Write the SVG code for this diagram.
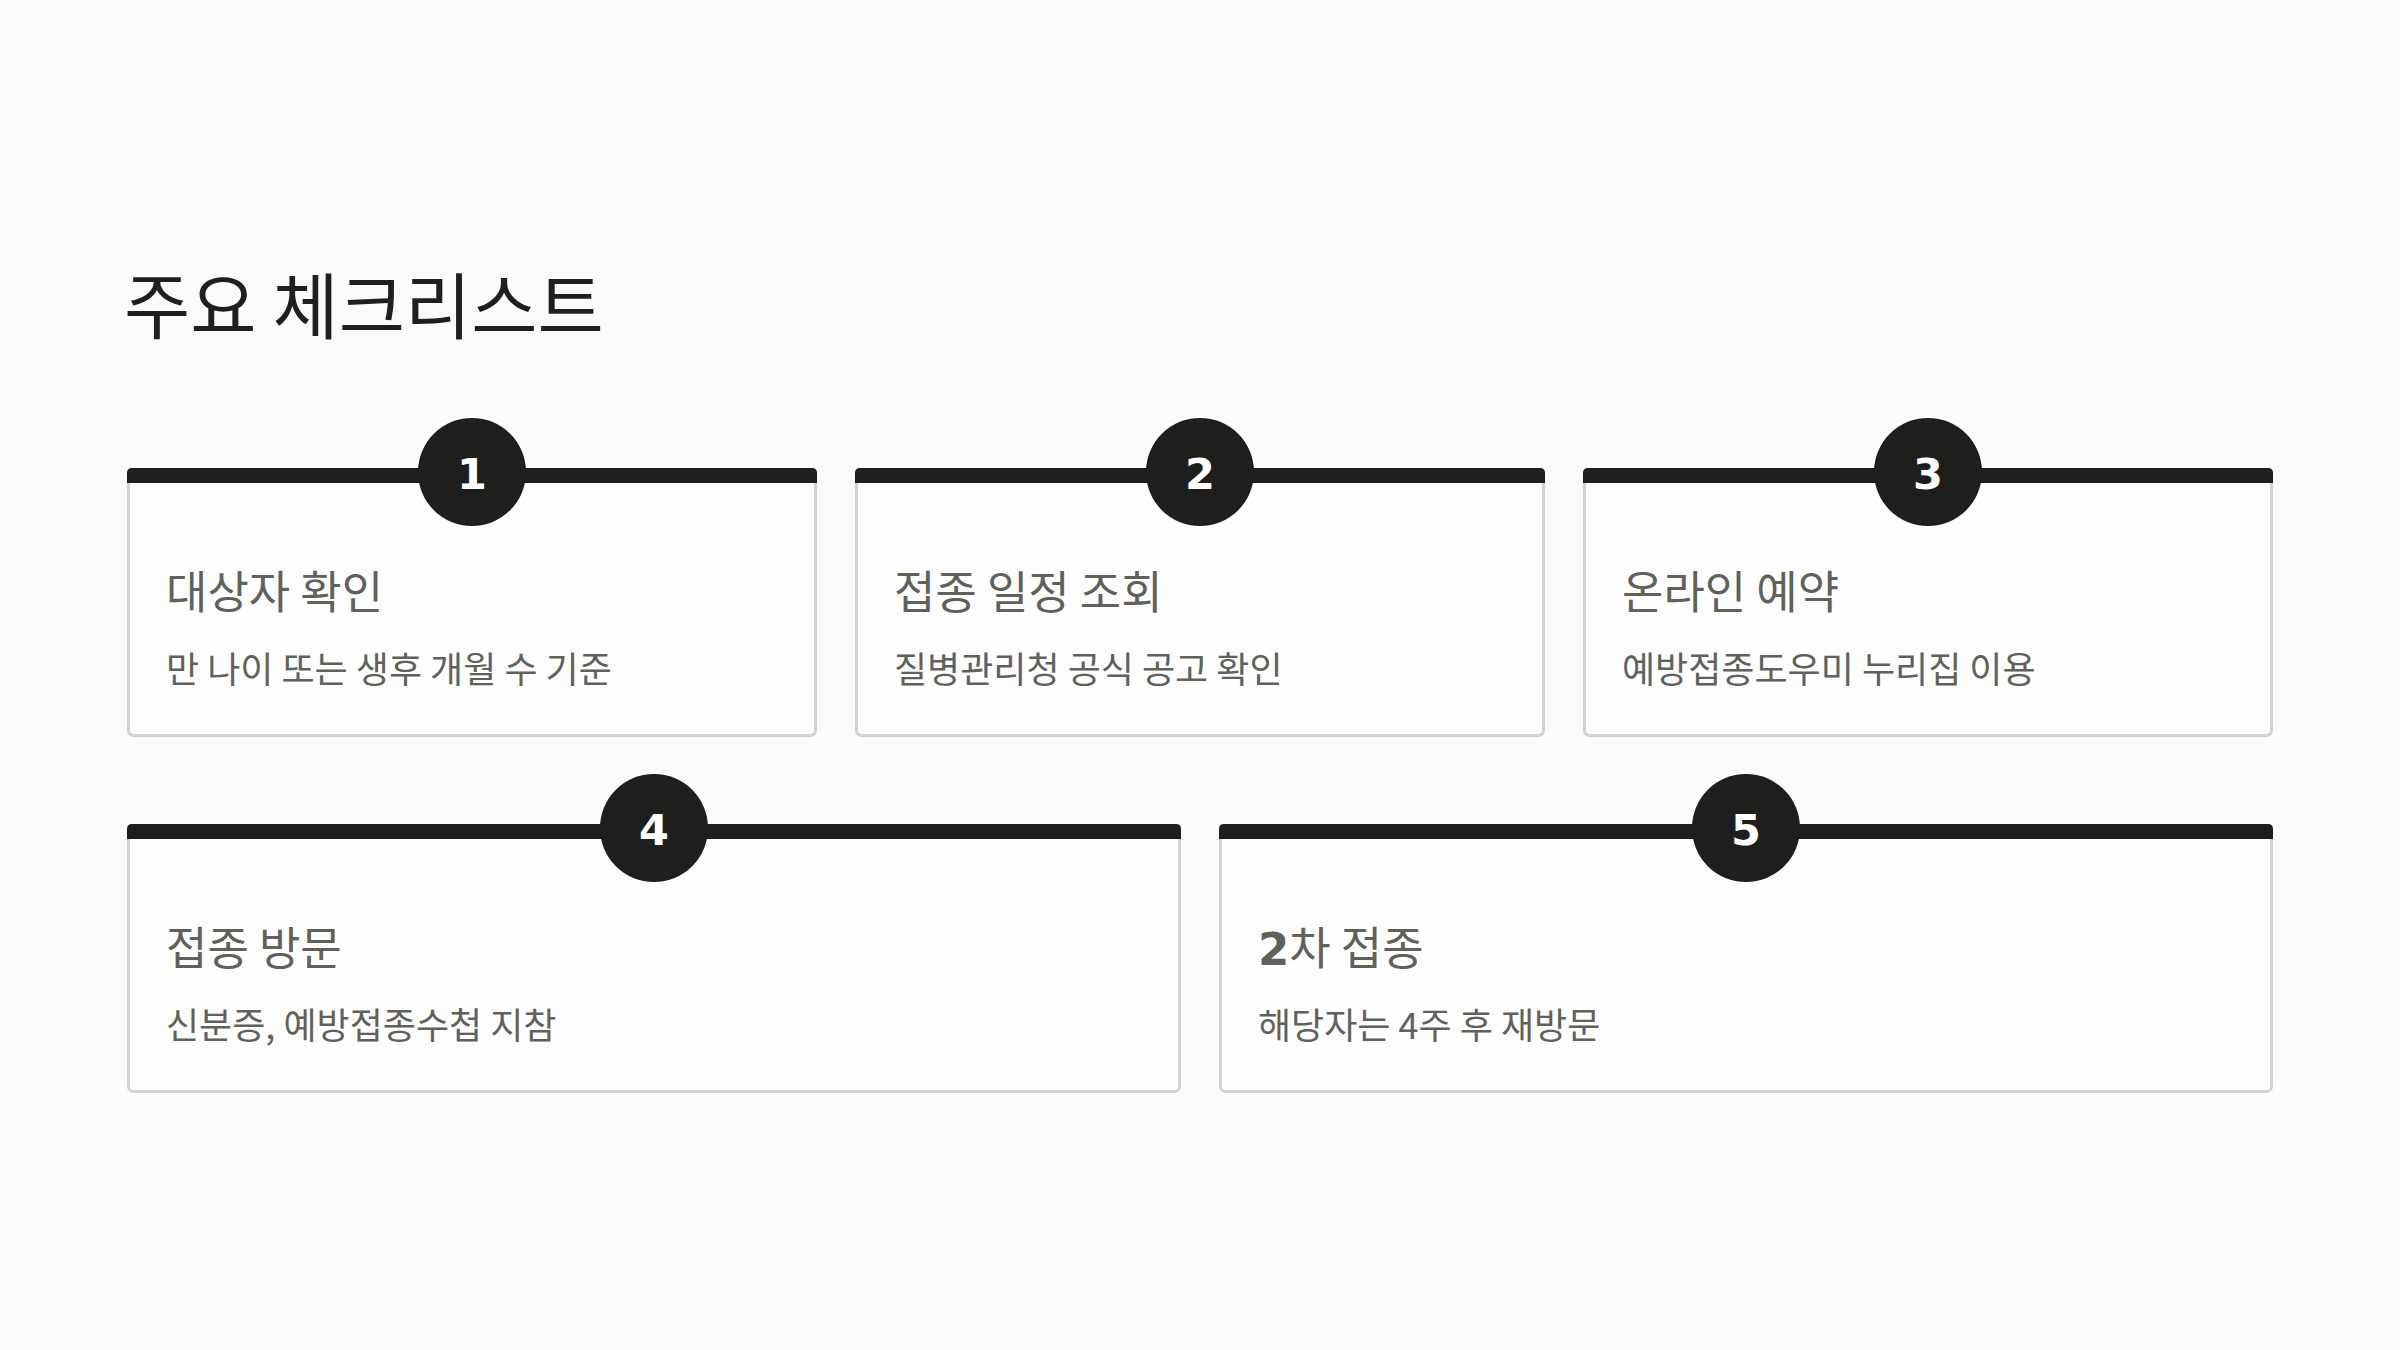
<svg xmlns="http://www.w3.org/2000/svg" width="2400" height="1350" viewBox="0 0 2400 1350">
  <style>
    .title { font-family: "Noto Sans CJK KR", "Noto Sans", sans-serif; font-size: 72px; fill: #1f1f1d; }
    .card { fill: #fdfdfd; stroke: #d5d1d1; stroke-width: 3; }
    .bar { fill: #1e1e1c; }
    .badge { fill: #1e1e1c; }
    .num { font-family: "DejaVu Sans", sans-serif; font-weight: bold; font-size: 43px; fill: #ffffff; text-anchor: middle; }
    .head { font-family: "Noto Sans CJK KR", "Noto Sans", sans-serif; font-size: 45px; fill: #61615b; }
    .desc { font-family: "Noto Sans CJK KR", "Noto Sans", sans-serif; font-size: 36px; fill: #61615b; }
    .bold { font-family: "DejaVu Sans", sans-serif; font-weight: bold; }
  </style>
  <rect x="0" y="0" width="2400" height="1350" fill="#fbfbfb"/>
  <text class="title" x="124" y="333">주요 체크리스트</text>

  <g id="connectors"></g>

  <g id="step1">
    <rect class="card" x="128.5" y="469.5" width="687" height="266" rx="5"/>
    <path class="bar" d="M127 483 V473 Q127 468 132 468 H812 Q817 468 817 473 V483 Z"/>
    <circle class="badge" cx="472" cy="472" r="54"/>
    <text class="num" x="472" y="489">1</text>
    <text class="head" x="166" y="609">대상자 확인</text>
    <text class="desc" x="166" y="683">만 나이 또는 생후 개월 수 기준</text>
  </g>

  <g id="step2">
    <rect class="card" x="856.5" y="469.5" width="687" height="266" rx="5"/>
    <path class="bar" d="M855 483 V473 Q855 468 860 468 H1540 Q1545 468 1545 473 V483 Z"/>
    <circle class="badge" cx="1200" cy="472" r="54"/>
    <text class="num" x="1200" y="489">2</text>
    <text class="head" x="894" y="609">접종 일정 조회</text>
    <text class="desc" x="894" y="683">질병관리청 공식 공고 확인</text>
  </g>

  <g id="step3">
    <rect class="card" x="1584.5" y="469.5" width="687" height="266" rx="5"/>
    <path class="bar" d="M1583 483 V473 Q1583 468 1588 468 H2268 Q2273 468 2273 473 V483 Z"/>
    <circle class="badge" cx="1928" cy="472" r="54"/>
    <text class="num" x="1928" y="489">3</text>
    <text class="head" x="1622" y="609">온라인 예약</text>
    <text class="desc" x="1622" y="683">예방접종도우미 누리집 이용</text>
  </g>

  <g id="step4">
    <rect class="card" x="128.5" y="825.5" width="1051" height="266" rx="5"/>
    <path class="bar" d="M127 839 V829 Q127 824 132 824 H1176 Q1181 824 1181 829 V839 Z"/>
    <circle class="badge" cx="654" cy="828" r="54"/>
    <text class="num" x="654" y="845">4</text>
    <text class="head" x="166" y="965">접종 방문</text>
    <text class="desc" x="166" y="1039">신분증, 예방접종수첩 지참</text>
  </g>

  <g id="step5">
    <rect class="card" x="1220.5" y="825.5" width="1051" height="266" rx="5"/>
    <path class="bar" d="M1219 839 V829 Q1219 824 1224 824 H2268 Q2273 824 2273 829 V839 Z"/>
    <circle class="badge" cx="1746" cy="828" r="54"/>
    <text class="num" x="1746" y="845">5</text>
    <text class="head" x="1258" y="965"><tspan class="bold">2</tspan>차 접종</text>
    <text class="desc" x="1258" y="1039">해당자는 4주 후 재방문</text>
  </g>
</svg>
